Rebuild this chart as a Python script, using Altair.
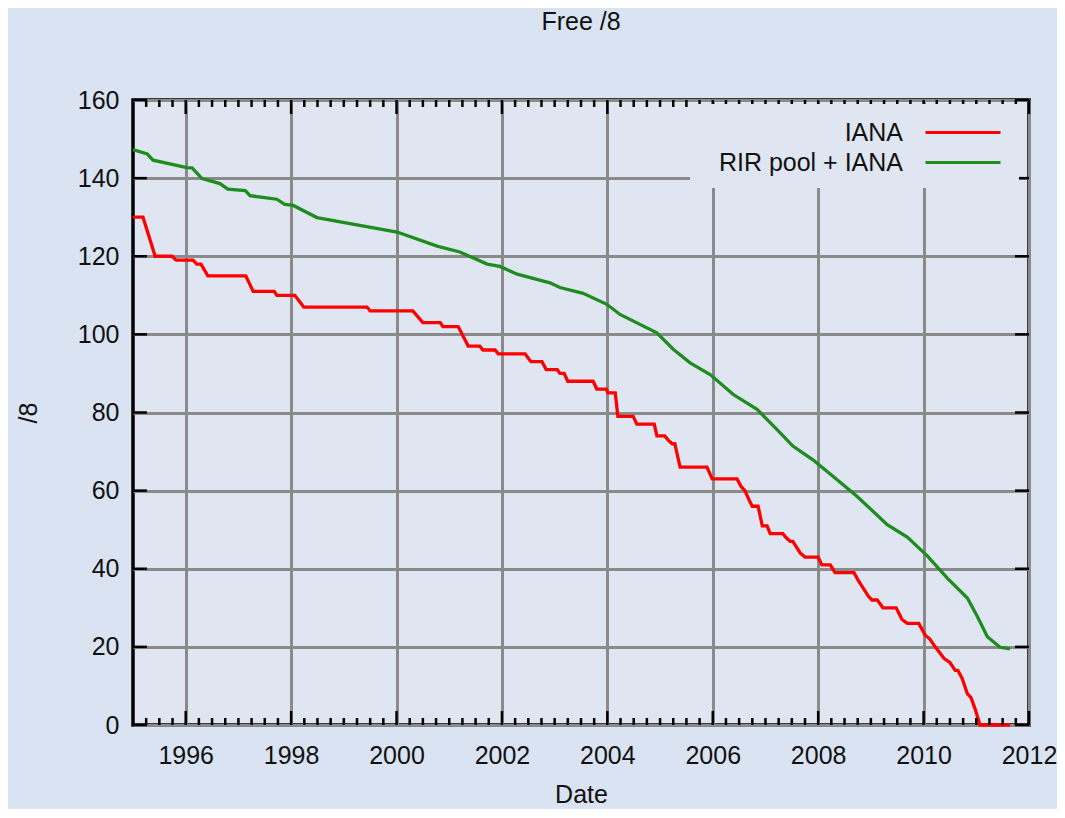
import altair as alt
import pandas as pd

# ---------------- data ----------------
iana_year = [1995.00, 1995.19, 1995.42, 1995.74, 1995.82, 1996.14, 1996.21, 1996.29, 1996.42,
             1997.14, 1997.28, 1997.68, 1997.73, 1998.07, 1998.24, 1999.44, 1999.50, 2000.31,
             2000.50, 2000.83, 2000.88, 2001.17, 2001.36, 2001.58, 2001.64, 2001.87, 2001.93,
             2002.44, 2002.55, 2002.76, 2002.84, 2003.05, 2003.10, 2003.18, 2003.25, 2003.73,
             2003.80, 2003.98, 2004.01, 2004.15, 2004.20, 2004.49, 2004.56, 2004.89, 2004.94,
             2005.09, 2005.15, 2005.23, 2005.28, 2005.38, 2005.89, 2005.99, 2006.46, 2006.54,
             2006.61, 2006.71, 2006.75, 2006.86, 2006.94, 2007.03, 2007.09, 2007.33, 2007.39,
             2007.47, 2007.52, 2007.66, 2007.75, 2008.00, 2008.07, 2008.23, 2008.32, 2008.68,
             2008.76, 2008.95, 2009.02, 2009.12, 2009.23, 2009.48, 2009.59, 2009.69, 2009.91,
             2010.03, 2010.12, 2010.22, 2010.39, 2010.50, 2010.60, 2010.65, 2010.73, 2010.83,
             2010.90, 2010.98, 2011.07, 2011.64]
iana_free = [130, 130, 120, 120, 119, 119, 118, 118, 115,
             115, 111, 111, 110, 110, 107, 107, 106, 106,
             103, 103, 102, 102, 97, 97, 96, 96, 95,
             95, 93, 93, 91, 91, 90, 90, 88, 88,
             86, 86, 85, 85, 79, 79, 77, 77, 74,
             74, 73, 72, 72, 66, 66, 63, 63, 61,
             60, 57, 56, 56, 51, 51, 49, 49, 48,
             47, 47, 44, 43, 43, 41, 41, 39, 39,
             37, 33, 32, 32, 30, 30, 27, 26, 26,
             23, 22, 20, 17, 16, 14, 14, 12, 8,
             7, 4, 0, 0]

rir_year = [1995.00, 1995.27, 1995.38, 1996.02, 1996.12, 1996.31, 1996.65, 1996.80, 1997.13,
            1997.22, 1997.73, 1997.88, 1998.04, 1998.49, 1999.17, 2000.01, 2000.77, 2001.20,
            2001.72, 2001.96, 2002.29, 2002.91, 2003.10, 2003.54, 2003.99, 2004.24, 2004.94,
            2005.25, 2005.57, 2005.95, 2006.39, 2006.84, 2007.22, 2007.52, 2007.90, 2008.28,
            2008.74, 2009.31, 2009.69, 2010.07, 2010.45, 2010.83, 2011.02, 2011.21, 2011.45,
            2011.64]
rir_free = [147.3, 146.2, 144.6, 142.7, 142.6, 139.9, 138.6, 137.2, 136.8,
            135.5, 134.6, 133.3, 133.0, 129.9, 128.2, 126.2, 122.6, 121.1,
            118.0, 117.4, 115.4, 113.2, 112.0, 110.5, 107.7, 105.1, 100.4,
            96.2, 92.7, 89.7, 84.6, 80.8, 75.6, 71.4, 67.9, 63.7,
            58.5, 51.3, 48.1, 43.3, 37.6, 32.5, 27.8, 22.6, 19.9,
            19.5]

series_names = ["IANA", "RIR pool + IANA"]
series_colors = ["#ff0000", "#1e8c1e"]

x_major_ticks = [1996, 1998, 2000, 2002, 2004, 2006, 2008, 2010, 2012]
x_minor_ticks = [1995 + q / 4 for q in range(1, 68) if q % 8 != 4]
y_ticks = [0, 20, 40, 60, 80, 100, 120, 140, 160]

# ---------------- styling ----------------
FONT = "Liberation Sans"
FS = 25
W, H = 896, 625
BG = "#d9e3f1"
PLOT_BG = "#dfe6f1"
GRID = "#8a8a8a"
# legend key: a line drawn to the right of the (right-aligned) label
LEGEND_KEY_PATH = "M13.8,0L18.8,0"

rows = []
for i, (x, v) in enumerate(zip(iana_year, iana_free)):
    rows.append({"year": x, "free": v, "series": series_names[0], "idx": i})
for i, (x, v) in enumerate(zip(rir_year, rir_free)):
    rows.append({"year": x, "free": v, "series": series_names[1], "idx": i})
df = pd.DataFrame(rows)

xscale = alt.Scale(domain=[1995, 2012], nice=False, zero=False)
yscale = alt.Scale(domain=[0, 160], nice=False, zero=False)

x_axis = alt.Axis(
    values=x_major_ticks, format="d", grid=True, gridColor=GRID, gridWidth=3,
    ticks=False, tickSize=0, domain=False, labelPadding=18,
    labelFont=FONT, labelFontSize=FS, labelColor="#111",
    labelFlush=False, labelOverlap=False,
    title="Date", titleFont=FONT, titleFontSize=FS, titleFontWeight="normal",
    titleColor="#111", titlePadding=14)
y_axis = alt.Axis(
    values=y_ticks, grid=True, gridColor=GRID, gridWidth=3,
    ticks=False, tickSize=0, domain=False, labelPadding=14,
    labelFont=FONT, labelFontSize=FS, labelColor="#111",
    labelFlush=False, labelOverlap=False,
    title="/8", titleFont=FONT, titleFontSize=FS, titleFontWeight="normal",
    titleColor="#111", titlePadding=36)

lines = alt.Chart(df).mark_line(strokeWidth=3.3).encode(
    x=alt.X("year:Q", scale=xscale, axis=x_axis),
    y=alt.Y("free:Q", scale=yscale, axis=y_axis),
    color=alt.Color("series:N", scale=alt.Scale(domain=series_names, range=series_colors),
                    legend=alt.Legend(
                        title=None, orient="none", legendX=557, legendY=4,
                        fillColor=PLOT_BG, padding=12,
                        symbolType=LEGEND_KEY_PATH, symbolSize=900, symbolStrokeWidth=3,
                        rowPadding=0,
                        labelAlign="right", labelOffset=168, symbolOffset=0,
                        labelFont=FONT, labelFontSize=FS, labelColor="#111",
                        labelLimit=500)),
    order="idx:Q",
)

tick_major_df = pd.DataFrame({"year": x_major_ticks})
tick_minor_df = pd.DataFrame({"year": x_minor_ticks})
tick_y_df = pd.DataFrame({"free": y_ticks})

def xticks(data, y0, y1):
    return alt.Chart(data).mark_rule(color="black", strokeWidth=2.5).encode(
        x=alt.X("year:Q", scale=xscale, axis=x_axis),
        y=alt.value(y0), y2=alt.value(y1))

def yticks(x0, x1):
    return alt.Chart(tick_y_df).mark_rule(color="black", strokeWidth=2.5).encode(
        y=alt.Y("free:Q", scale=yscale, axis=y_axis),
        x=alt.value(x0), x2=alt.value(x1))

chart = alt.layer(
    lines,
    xticks(tick_major_df, H, H - 14),
    xticks(tick_major_df, 0, 14),
    xticks(tick_minor_df, H, H - 7),
    xticks(tick_minor_df, 0, 7),
    yticks(0, 14),
    yticks(W, W - 14),
).properties(
    width=W, height=H,
    autosize=alt.AutoSizeParams(type="none"),
    padding={"left": 125, "top": 92, "right": 28, "bottom": 84},
    background=BG,
    title=alt.Title("Free /8", font=FONT, fontSize=FS, fontWeight="normal", color="#111",
                    anchor="middle", frame="group", baseline="alphabetic", offset=33),
).configure_view(
    stroke="black", strokeWidth=3.5, fill=PLOT_BG
)

chart.save("out.html", embed_options={"renderer": "svg", "actions": False})
